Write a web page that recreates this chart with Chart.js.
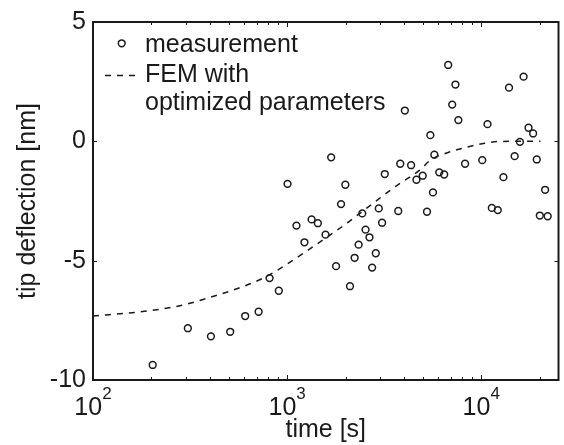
<!DOCTYPE html>
<html>
<head>
<meta charset="utf-8">
<script src="https://cdn.jsdelivr.net/npm/chart.js@4.4.1/dist/chart.umd.min.js"></script>
<style>
  html, body { margin: 0; padding: 0; background: #fff; }
  #tipChart { display: block; }
</style>
</head>
<body>
<canvas id="tipChart" width="564" height="445"></canvas>
<script>
// measured tip deflection
const measTime = [203, 308, 405, 509, 608, 713, 812, 906, 1005, 1117, 1228, 1337, 1440, 1577, 1686, 1787,
    1896, 1995, 2108, 2227, 2335, 2438, 2535, 2656, 2741, 2862, 2966, 3084, 3184, 3736, 3826, 4040,
    4352, 4636, 4994, 5255, 5467, 5641, 5733, 6076, 6443, 6757, 7085, 7362, 7624, 8253, 10120, 10770,
    11340, 12170, 13010, 13900, 14860, 15820, 16520, 17520, 18500, 19320, 20030, 21330, 21990];
const measDeflection = [-9.37, -7.83, -8.17, -7.98, -7.32, -7.14, -5.73, -6.26, -1.78, -3.53, -4.23, -3.27, -3.43, -3.91, -0.67, -5.23,
    -2.63, -1.82, -6.07, -4.88, -4.33, -3.02, -3.70, -4.02, -5.29, -4.69, -2.81, -3.41, -1.37, -2.92, -0.94, 1.29,
    -1.00, -1.61, -1.44, -2.95, 0.26, -2.14, -0.56, -1.30, -1.39, 3.20, 1.54, 2.38, 0.89, -0.94, -0.79, 0.72,
    -2.79, -2.88, -1.50, 2.25, -0.62, -0.02, 2.71, 0.57, 0.33, -0.76, -3.11, -2.03, -3.14];

// FEM curve
const femTime = [100, 180, 280, 385, 590, 780, 1000, 1270, 1640, 2000, 2340, 2740, 3200, 3750, 4380, 4800,
    5550, 6750, 8200, 10400, 12100, 15400, 20200];
const femDeflection = [-7.32, -7.13, -6.89, -6.58, -6.09, -5.67, -5.14, -4.58, -3.96, -3.47, -3.05, -2.63, -2.21, -1.80, -1.45, -1.22,
    -0.75, -0.47, -0.27, -0.08, -0.01, 0.0, 0.0];

// ticks
const xTicks = [100, 200, 300, 400, 500, 600, 700, 800, 900, 1000, 2000, 3000, 4000, 5000, 6000, 7000, 8000, 9000, 10000, 20000];
const xLabelExps = [2, 3, 4];
const yTicks = [-10, -5, 0, 5];
const legendLines = [['measurement'], ['FEM with', 'optimized parameters']];

const ink = '#1a1a1a';
const fontName = '"Liberation Sans", Arial, sans-serif';

const matlabAxes = {
    id: 'matlabAxes',
    afterDraw(chart) {
        const ctx = chart.ctx;
        const a = chart.chartArea;
        const xs = chart.scales.x;
        const ys = chart.scales.y;
        ctx.save();
        ctx.strokeStyle = ink;
        ctx.fillStyle = ink;

        // inside ticks
        ctx.lineWidth = 1;
        ctx.beginPath();
        xTicks.forEach(function (v) {
            const px = Math.round(xs.getPixelForValue(v)) + 0.5;
            const len = (Math.log10(v) % 1 === 0) ? 5 : 3;
            ctx.moveTo(px, a.bottom); ctx.lineTo(px, a.bottom - len);
            ctx.moveTo(px, a.top); ctx.lineTo(px, a.top + len);
        });
        yTicks.forEach(function (v) {
            const py = Math.round(ys.getPixelForValue(v)) + 0.5;
            ctx.moveTo(a.left, py); ctx.lineTo(a.left + 4, py);
            ctx.moveTo(a.right, py); ctx.lineTo(a.right - 4, py);
        });
        ctx.stroke();

        // box
        ctx.lineWidth = 2;
        ctx.strokeRect(a.left, a.top, a.right - a.left, a.bottom - a.top);

        // x tick labels 10^n
        ctx.textBaseline = 'alphabetic';
        ctx.textAlign = 'left';
        xLabelExps.forEach(function (e) {
            const px = xs.getPixelForValue(Math.pow(10, e));
            ctx.font = '25px ' + fontName;
            const wBase = ctx.measureText('10').width;
            ctx.font = '17px ' + fontName;
            const wExp = ctx.measureText(String(e)).width;
            const x0 = px - (wBase + wExp) / 2;
            ctx.font = '25px ' + fontName;
            ctx.fillText('10', x0, 415);
            ctx.font = '17px ' + fontName;
            ctx.fillText(String(e), x0 + wBase, 399);
        });

        // legend
        ctx.lineWidth = 1.5;
        ctx.beginPath();
        ctx.arc(121.7, 43.3, 3.4, 0, Math.PI * 2);
        ctx.stroke();
        ctx.setLineDash([6, 6]);
        ctx.beginPath();
        ctx.moveTo(105, 75.5);
        ctx.lineTo(136, 75.5);
        ctx.stroke();
        ctx.setLineDash([]);
        ctx.font = '25px ' + fontName;
        ctx.fillText(legendLines[0][0], 145, 52);
        ctx.fillText(legendLines[1][0], 145, 82);
        ctx.fillText(legendLines[1][1], 145, 110);
        ctx.restore();
    }
};

const tipCtx = document.getElementById('tipChart').getContext('2d');
const tipChart = new Chart(tipCtx, {
    type: 'scatter',
    data: {
        datasets: [{
            label: 'measurement',
            data: measTime.map((t, i) => ({ x: t, y: measDeflection[i] })),
            pointRadius: 3.4,
            pointBorderWidth: 1.5,
            borderColor: ink,
            backgroundColor: 'rgba(0,0,0,0)',
            showLine: false
        }, {
            label: 'FEM with optimized parameters',
            data: femTime.map((t, i) => ({ x: t, y: femDeflection[i] })),
            showLine: true,
            pointRadius: 0,
            borderColor: ink,
            borderWidth: 1.5,
            borderDash: [6, 6],
            cubicInterpolationMode: 'monotone',
            fill: false
        }]
    },
    options: {
        responsive: false,
        animation: false,
        devicePixelRatio: 1,
        layout: { padding: { top: 21, right: 2, left: 0, bottom: 0 } },
        plugins: {
            legend: { display: false },
            tooltip: { enabled: false }
        },
        scales: {
            x: {
                type: 'logarithmic',
                min: 100,
                max: 25000,
                grid: { display: false },
                border: { display: false },
                ticks: { display: false },
                afterFit: function (s) { s.height = 65; },
                title: {
                    display: true,
                    text: 'time [s]',
                    color: ink,
                    font: { family: fontName, size: 25 },
                    padding: { top: 0, bottom: 0 }
                }
            },
            y: {
                min: -10,
                max: 5,
                grid: { display: false, drawTicks: false },
                border: { display: false },
                afterFit: function (s) { s.width = 93; },
                afterBuildTicks: function (s) { s.ticks = yTicks.map(v => ({ value: v })); },
                ticks: {
                    color: ink,
                    padding: 7,
                    font: { family: fontName, size: 25 },
                    callback: v => String(v)
                },
                title: {
                    display: true,
                    text: 'tip deflection [nm]',
                    color: ink,
                    font: { family: fontName, size: 25 },
                    padding: { top: 13, bottom: 0 }
                }
            }
        }
    },
    plugins: [matlabAxes]
});
</script>
</body>
</html>
